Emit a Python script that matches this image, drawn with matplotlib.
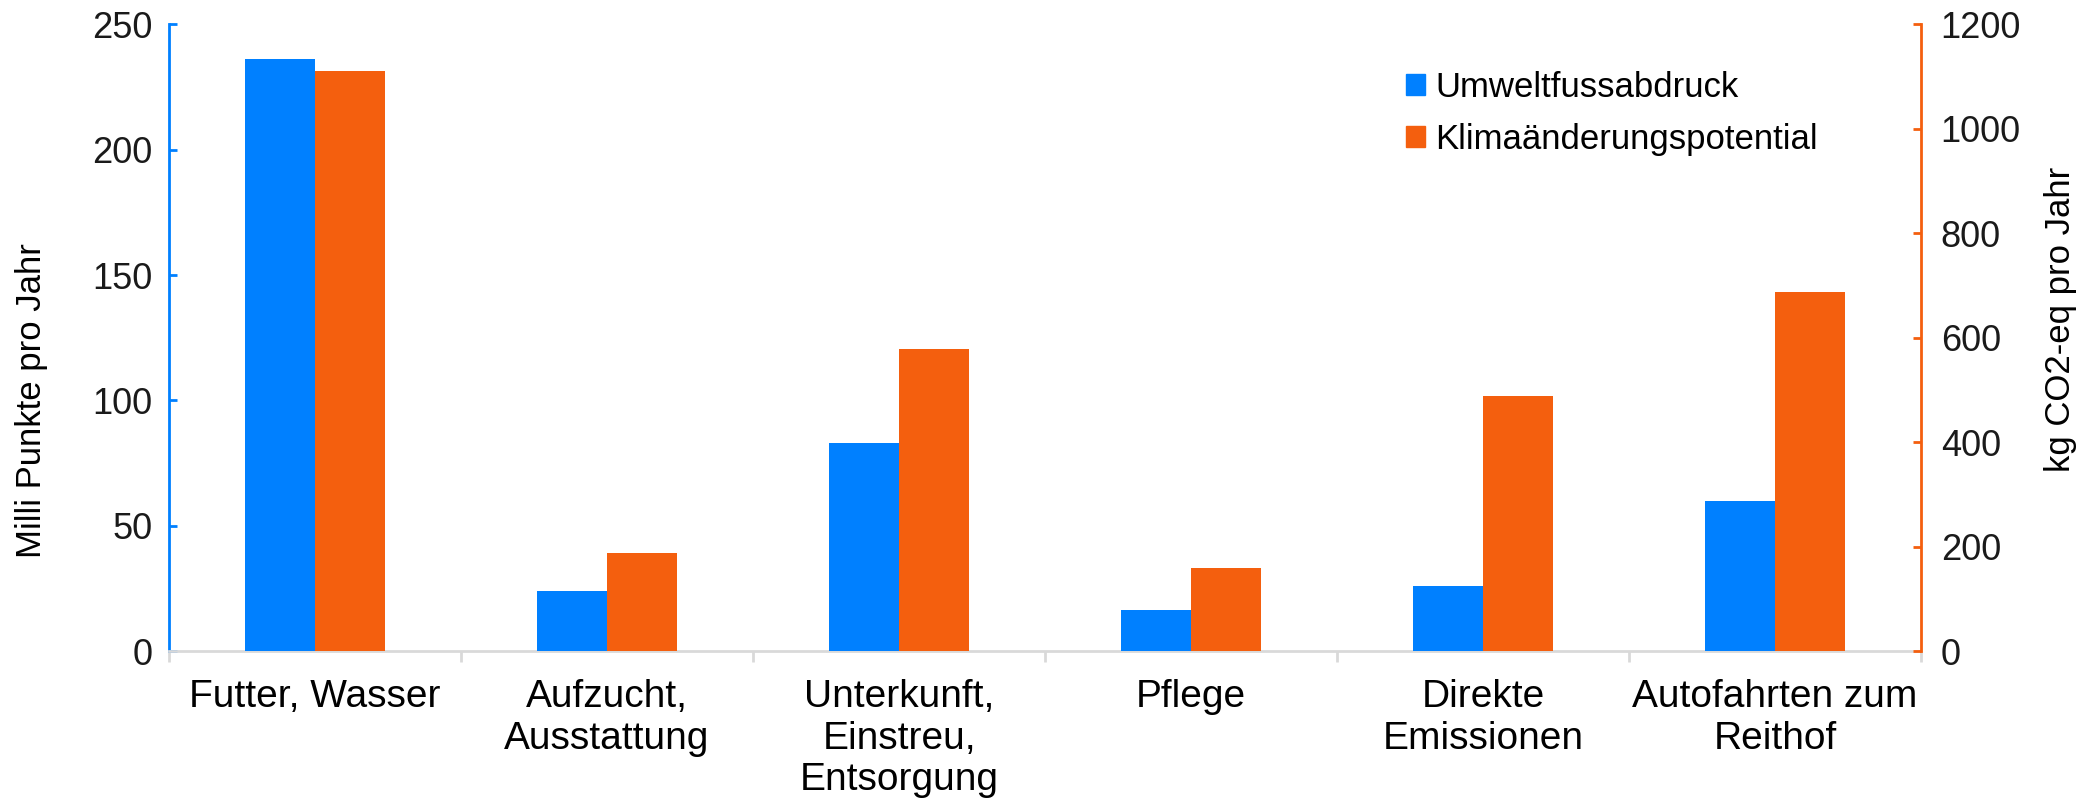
import matplotlib.pyplot as plt
import numpy as np
from matplotlib.patches import Patch

plt.rcParams['font.family'] = ['Liberation Sans', 'DejaVu Sans']

categories = ['Futter, Wasser', 'Aufzucht,\nAusstattung', 'Unterkunft,\nEinstreu,\nEntsorgung',
              'Pflege', 'Direkte\nEmissionen', 'Autofahrten zum\nReithof']
umwelt = [236, 24, 83, 16.5, 26, 60]          # Milli Punkte pro Jahr
klima = [1110, 188, 578, 160, 488, 688]       # kg CO2-eq pro Jahr

blue = '#0080ff'
orange = '#f45f0e'
grid_gray = '#d9d9d9'

fig = plt.figure(figsize=(20.86, 8.07), dpi=100)
ax = fig.add_axes([0.081, 0.193, 0.84, 0.777])
ax2 = ax.twinx()

x = np.arange(len(categories))
w = 0.24
ax.bar(x - w/2, umwelt, w, color=blue, zorder=3)
ax2.bar(x + w/2, klima, w, color=orange, zorder=3)

ax.set_xlim(-0.5, len(categories) - 0.5)
ax.set_ylim(0, 250)
ax2.set_ylim(0, 1200)
ax.set_yticks(np.arange(0, 251, 50))
ax2.set_yticks(np.arange(0, 1201, 200))

ax.spines['top'].set_visible(False)
ax2.spines['top'].set_visible(False)
ax.spines['right'].set_visible(False)
ax2.spines['left'].set_visible(False)
ax.spines['left'].set_color(blue)
ax.spines['left'].set_linewidth(2)
ax2.spines['right'].set_color(orange)
ax2.spines['right'].set_linewidth(2)
ax.spines['bottom'].set_color(grid_gray)
ax.spines['bottom'].set_linewidth(2)
ax2.spines['bottom'].set_visible(False)

ax.tick_params(axis='y', colors=blue, direction='in', length=6, width=2,
               labelsize=26, labelcolor='#1a1a1a', pad=12)
ax2.tick_params(axis='y', colors=orange, direction='in', length=6, width=2,
                labelsize=26, labelcolor='#1a1a1a', pad=14)

ax.set_xticks(x)
ax.set_xticklabels(categories, fontsize=28, linespacing=1.2)
ax.tick_params(axis='x', which='major', length=0, pad=20)
ax.set_xticks(np.arange(-0.5, len(categories), 1), minor=True)
ax.tick_params(axis='x', which='minor', length=8, width=2, color=grid_gray)

ax.set_ylabel('Milli Punkte pro Jahr', fontsize=25)
ax.yaxis.set_label_coords(-0.069, 0.40)
ax2.set_ylabel('kg CO2-eq pro Jahr', fontsize=25)
ax2.yaxis.set_label_coords(1.07, 0.53)

handles = [Patch(color=blue, label='Umweltfussabdruck'),
           Patch(color=orange, label='Klimaänderungspotential')]
ax2.legend(handles=handles, loc='upper left', bbox_to_anchor=(0.688, 0.975), frameon=False,
           fontsize=25, handlelength=0.55, handleheight=0.55, handletextpad=0.3, labelspacing=0.55)

fig.savefig('out.png', dpi=100)
